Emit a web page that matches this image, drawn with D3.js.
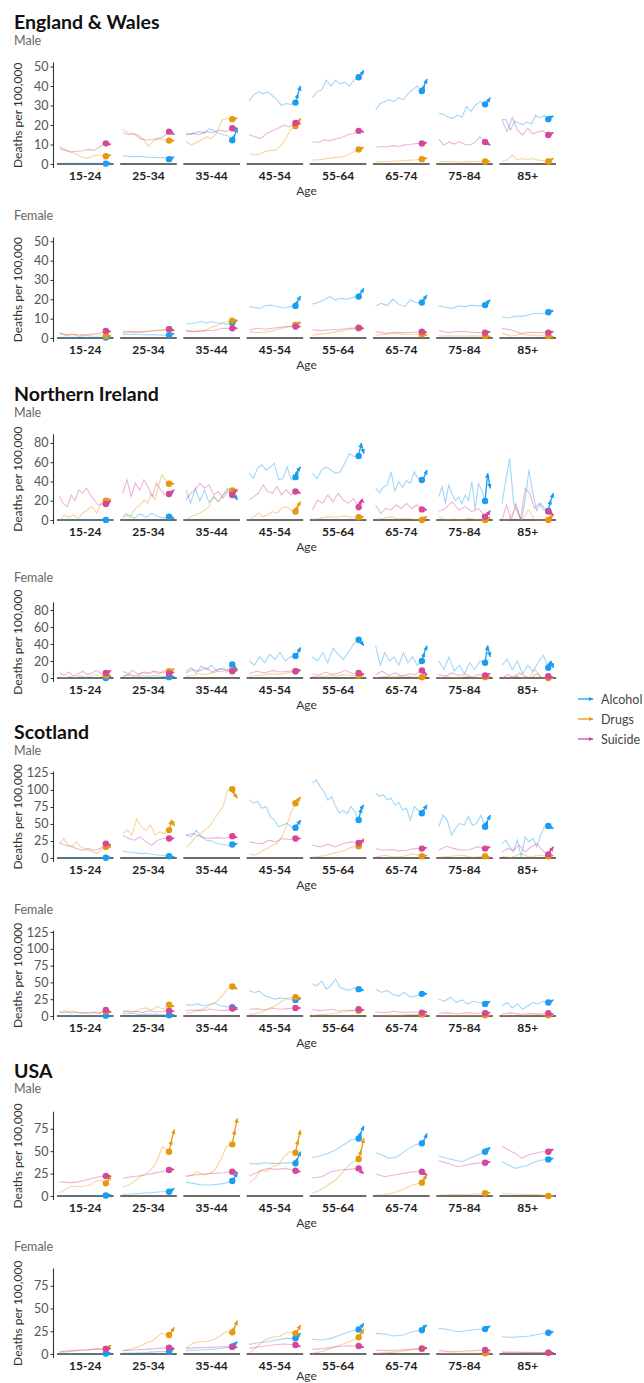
<!DOCTYPE html>
<html>
<head>
<meta charset="utf-8">
<script src="https://cdn.jsdelivr.net/npm/d3@7"></script>
<style>
  body { margin: 0; background: #fff; }
  svg { display: block; font-family: Lato, "Open Sans", sans-serif; }
</style>
</head>
<body>
<script>
// ages and causes
const ages = ['15-24', '25-34', '35-44', '45-54', '55-64', '65-74', '75-84', '85+']
const causes = ['Alcohol', 'Drugs', 'Suicide']
const causeColors = ['#1a9cf0', '#e8980f', '#d4479b']
const firstYear = 2001
const lastLineYear = 2019
const endYears = [2020, 2021]

// tick labels per country
const ewTicks = [0, 10, 20, 30, 40, 50]
const niTicks = [0, 20, 40, 60, 80]
const scTicks = [0, 25, 50, 75, 100, 125]
const usTicks = [0, 25, 50, 75]

// England & Wales, male (line values 2001-2019, last one is the dot)
const ewMaleAlcohol = [
  [0.4,0.4,0.4,0.4,0.4,0.3,0.3,0.3,0.3,0.2],
  [4.2,4.0,3.8,4.0,3.8,3.5,3.4,3.2,3.3,2.5],
  [15.5,15.2,16,16.6,16,18,17,16,15,14.5,12.2],
  [32.5,35.5,37,36,37,35,33,30,31,30.5,31.5],
  [34,37,38,43,40,43,41,42,40,43,44.5],
  [27.7,31,32,33,32,34,33,36,38,40,37.4],
  [26,25.5,24,23.4,25,24,29.5,27,30.4,32,30.6],
  [22.9,22.6,17.4,21.9,21,20.2,21.5,20.5,25,23.5,25,23],
]
const ewMaleAlcoholEnd = [[0.3,0.4],[3,3.6],[15,18.5],[36,40],[46,48],[40.5,43.6],[32,34],[24,24.6]]
const ewMaleDrugs = [
  [9,7.5,6,5.5,4,3,3.5,4.6,4.5,4],
  [18,16,15.5,15,12.6,9,12,13,12.5,12],
  [11.5,9.7,11,12.3,14,13,16,22.5,23.4,23],
  [5.5,4.6,5,6.3,7,7,9,12.3,17.4,19.5],
  [2,2.2,2.5,3,3.4,3.5,4.6,6,7.5],
  [1.2,1.2,1.3,1.5,1.5,1.8,2,2.2,2.5],
  [1.3,1.2,1.3,1.1,1.3,1.2,1.4,1.3],
  [1.5,2,4.6,2,2.8,2.2,2.8,2,1.8,1.3],
]
const ewMaleDrugsEnd = [[4.3,4.5],[12,12],[23.2,23.5],[21.5,23.4],[8,8.5],[2.8,3],[1.4,1.2],[2,3]]
const ewMaleSuicide = [
  [8,7,6.3,6.5,6.8,7.5,7,9,10.6],
  [16,15,15.5,13,12.3,12.6,13,14,16.6],
  [15,15.7,15,16.6,16,17.4,16.6,18.3],
  [15,14,13,15.7,17,18.3,20,19,21],
  [11.4,11,12.3,12,12.8,13.5,14.9,15.5,17],
  [8.5,9,8.7,9.4,9,9.8,10,10.5,10.5],
  [12.7,9.7,11.3,10.2,11.5,10,9.8,11,14,11.3],
  [22.6,16.6,24,17.4,14.9,18.3,15.5,16.5,17,14.9],
]
const ewMaleSuicideEnd = [[10.2,10],[16,15],[18.5,18.3],[21,20.5],[16.8,16.4],[10.8,11],[10.5,9.7],[15.5,16.2]]

// England & Wales, female
const ewFemaleAlcohol = [
  [0.3,0.3,0.3,0.3,0.3,0.2,0.2,0.2],
  [2,1.8,1.8,1.7,1.6,1.7,1.5,1.5],
  [7.2,7.5,7.9,8.5,7.8,8.4,7.9,7.5,7.2,7.9],
  [16.2,15.8,15.3,16.5,17,16.5,16,15.5,16.2,16.6],
  [17.5,18.5,19.7,21.4,19.7,20.5,20,21,21.4],
  [16.6,17.9,16.8,20,17.5,16.2,19.7,18.2,18.3],
  [16.6,15.9,15.3,16.6,16.2,17,16.5,17],
  [11,10.2,11.4,11.2,11.9,12.8,12.5,13.3],
]
const ewFemaleAlcoholEnd = [[0.3,0.5],[2,2.4],[8.5,9.3],[19.5,21.7],[23.5,25.7],[20.5,22.2],[18.5,19.7],[13.8,14]]
const ewFemaleDrugs = [
  [2.8,1.5,2,1.8,1.5,0.9,1,1.2],
  [3.8,3.2,2.8,3.3,3.5,4.1,4.3,4.5],
  [3.8,3.3,3.6,3.5,5,6,7.6,8.4,9],
  [3.3,2.8,3,3.3,4.1,5,5.9,6.7],
  [1.5,2,2.4,3.3,3.8,4.5,5],
  [1.5,1.8,2.4,2,1.9,1.9],
  [1,1.1,1,1.1,1],
  [2.4,1,2,1.5,1.2,1],
]
const ewFemaleDrugsEnd = [[1.1,1],[4,3.8],[9,9],[7.5,8.4],[5,4.8],[1.8,1.5],[0.9,0.7],[0.8,0.7]]
const ewFemaleSuicide = [
  [2.4,1.5,1.8,1,1.7,2,2.4,3.6],
  [2.8,3.3,3,3.6,3.8,4.5],
  [3.8,3.3,3.8,4,5,5],
  [4.1,5,4.5,5,5.5,5.9,5.9],
  [4.3,3.8,4.3,4.5,5,5.3],
  [3.3,2.4,3,2.8,3,3.3],
  [3.8,2.8,3.4,3.2,2.8,2.8],
  [5,4.1,2.4,3,2.8,2.8],
]
const ewFemaleSuicideEnd = [[3.5,3.3],[4.3,4.1],[5,5],[5.9,5.9],[5.2,5],[3,2.9],[3,3.3],[3,3.3]]

// Northern Ireland, male
const niMaleAlcohol = [
  [0,0,0,0,0,0,0,0,0.1],
  [2.8,5.2,2,6.3,3,7,4,2,3.5],
  [31.3,17.4,33,20,31,18,24.3,19,26,33,27.8],
  [48.7,43.5,53.9,57.4,52,55,59,41.7,43,55,41.7,44.5],
  [48.5,43,52,55,52,48.5,50,59,69,66,66.5],
  [32.9,28.4,34,36.4,50,30,39.8,34,41,38,50,43,41.6],
  [24.2,34.6,17.3,36.4,27,20,24,17,26,20,39.8,10.4,38,31,19.7],
  [17.3,41.6,64,17.3,10,0,20.8,52,27.7,10,17.3,12,9.7],
]
const niMaleAlcoholEnd = [[0.1,0],[2.5,2],[25,20.9],[52,55],[79.7,69],[45,52],[48.5,32.9],[20.8,27.7]]
const niMaleDrugs = [
  [0,5.2,2.5,5.2,1.7,7,10.4,13.9,7,17.4,20],
  [3.5,7,2.8,8.7,13.9,15.6,20.9,17.4,27.8,20.9,34.8,47,41.7,37.6],
  [0,3.5,5.2,7,10.4,13.9,24.3,19,26,31.3,30.6],
  [0,3.5,7,3.5,5.2,8.7,7,12.2,13.9,10.4,8.7],
  [0.7,1.7,3.5,2.8,4.2,3,2.8],
  [0.7,1.5,3.5,1,2,0.5,0],
  [3.5,0,1,0,2,0,0],
  [0,0,12,0,10.4,0,0,0],
]
const niMaleDrugsEnd = [[21,21.5],[38,37.6],[30,29.6],[15,19],[3,3.5],[2,3.5],[1.5,2.8],[3,5.2]]
const niMaleSuicide = [
  [24.3,16.7,13.9,26,20,31.3,27.8,33,26,20.9,15.6,16.7,16.7],
  [27.8,41.7,24.3,38.3,31.3,41.7,34.8,24.3,38.3,31.3,26,27],
  [20.9,27.8,31.3,38.3,33,36.5,26,29.6,22.6,29.6,26],
  [20.9,24.3,27.8,36.5,29.6,27.8,34.8,26,31.3,26,29.6],
  [10.4,20.8,17.3,26,19,27.7,20.8,17.3,22.5,13.2],
  [15.6,6.9,12,10.4,15.6,12,17.3,12,15.6,11],
  [8.7,12.1,19,10.4,13.9,8.7,12.1,3.5],
  [0,15.6,0,17.3,0,32.9,27.7,12,17.3,10.4,8.7],
]
const niMaleSuicideEnd = [[18,20],[29,31.3],[30,32],[29,27.8],[20.8,18],[11,10.4],[6,9.7],[7,5.2]]

// Northern Ireland, female
const niFemaleAlcohol = [
  [0,0,0,0,0,0,0,0],
  [2,4,1,3,2,3,2,1],
  [8,12,6,14,10,15,8,12,9,16],
  [20,15,25,18,28,22,30,20,25,26],
  [25,20,30,18,35,28,22,30,40,45],
  [38,15,30,20,25,15,30,18,25,15,20],
  [20,10,25,8,15,5,18,10,20,18],
  [15,22,10,20,5,15,8,18,27,12],
]
const niFemaleAlcoholEnd = [[1,2],[1.5,2],[12,10],[30,36],[42,38],[30,38],[38,25],[20,12]]
const niFemaleDrugs = [
  [1,0,2,0,3,1,2,4,2,3],
  [2,4,3,6,5,8,6,8],
  [2,3,5,4,6,8,7,9],
  [2,3,4,5,4,6,8],
  [2,1,3,2,4,3,3],
  [0,2,1,3,1,1],
  [0,1,0,2,0,1],
  [0,0,3,0,0,10,0,0],
]
const niFemaleDrugsEnd = [[3,3],[9,11],[9,8],[8,9],[3,4],[2,3],[1,2],[0,0]]
const niFemaleSuicide = [
  [6,3,7,2,5,8,4,6,9,5,6],
  [8,5,9,4,7,6,8,5,9,5],
  [6,10,8,12,7,11,9,8],
  [5,8,6,9,7,8,8],
  [5,3,7,4,6,9,5,6],
  [4,8,3,6,2,5,4,9],
  [4,2,6,3,5,1,4,3],
  [0,4,0,6,2,0,5,0,2],
]
const niFemaleSuicideEnd = [[7,9],[6,7],[9,10],[9,9],[5,5],[6,4],[4,5],[1,1]]

// Scotland, male
const scMaleAlcohol = [
  [0.5,0.5,0.5,0.5,0.4,0.4,0.4,0.3],
  [9.9,8.9,8,6.4,7,5.4,4.5,4,2.5],
  [33.6,31,41,31,26.2,25,21.2,20.3,18.8,19.8],
  [85.5,80.5,83,73,75.6,60.8,55.8,46,48.4,50.9,46,44.5],
  [110,115,105,98,85,90,76,66,70,65,76,68,55.8],
  [95.4,90.4,93,85.5,88,78,82,70.6,73,55.8,75.6,70.6,65.7],
  [46,63,55.8,33.6,43.5,50.9,48,60.8,48,50.9,63,46],
  [21.2,26.2,16.3,8.9,26.2,1.5,31,23.7,28.7,16.3,33.6,46,47],
]
const scMaleAlcoholEnd = [[0.5,1],[2,1.5],[20.5,21.2],[50,55.8],[73,78],[72,78],[55,63],[45,43.5]]
const scMaleDrugs = [
  [21,28.7,18.8,16.3,23.7,16.3,13.8,11.4,8.9,6.4,13.8,16.3],
  [36,41,33.6,57.3,46,41,48.4,33.6,38.5,36,41],
  [16.3,21.2,31,33.6,41,46,55.8,65.7,75.6,100.3,101.3],
  [6.4,4,6.4,11.4,13.8,18.8,21.2,31,46,65.7,80.5],
  [1.5,2,4,6.4,8.9,11.4,16.3,17.3],
  [1.5,4,1.5,2.5,6.4,2.5],
  [1,2.5,4,1,2.5],
  [2.5,0.5,6.4,1.5,4,2.5],
]
const scMaleDrugsEnd = [[16.3,16.3],[55.8,47],[92.9,88],[85,89.4],[22,28.7],[3,4],[1.5,1],[3,4]]
const scMaleSuicide = [
  [22,18.8,17.3,13.8,11.4,13.8,11.4,13.8,21.2],
  [33.6,28.7,26.2,31,23.7,18.8,26.2,28.7,28.7],
  [33.6,36,31,28.7,30,29,32],
  [23.7,22,21.2,26.2,23.7,28.7,27.3,28.7],
  [18.8,16.3,20.3,16.3,21.2,23.7,22],
  [13.8,11.4,12.5,10.5,11.4,13.8,13.8],
  [11.4,17.3,13.8,11.4,12.5,16.3,13.8],
  [8.9,13.8,11.4,18.8,8.9,16.3,21.2,11.4,5.4],
]
const scMaleSuicideEnd = [[20,18.8],[28.7,28.7],[31,30],[28.7,28.7],[24,26.2],[14.5,15.3],[15,16.3],[11.4,16.3]]

// Scotland, female
const scFemaleAlcohol = [
  [0.5,0.5,0.5,0.5,0.5,0.5],
  [3,4,2,3,2,1],
  [17,16,18,15,17,19,15,14,13],
  [38,35,37,30,28,25,27,26,25,24],
  [48,45,52,40,45,55,42,40,38,42,40],
  [40,35,38,32,30,35,28,30,33],
  [25,22,28,20,24,18,22,20,18],
  [15,20,12,18,10,15,20,18,22,20],
]
const scFemaleAlcoholEnd = [[0.5,0.5],[1.5,2],[12.5,12],[25,26],[39,38],[33,33],[20,22],[22,24]]
const scFemaleDrugs = [
  [5,8,4,6,5,3,5,4,7],
  [5,8,6,10,12,9,14,10,17],
  [4,5,8,10,13,18,22,30,40,44],
  [2,3,5,8,12,15,20,25,28,28],
  [1,2,3,4,6,8,8],
  [0.5,1,1,2,2],
  [0.5,0.5,1,1],
  [1,0,2,1],
]
const scFemaleDrugsEnd = [[6,6],[15,14],[42,40],[27,27],[8.5,9],[2,2],[1,1],[1,1]]
const scFemaleSuicide = [
  [6,5,7,4,5,6,4,9],
  [8,6,7,5,8,6,7,8],
  [8,9,8,10,9,8,11],
  [10,11,9,12,10,11,12],
  [10,8,9,10,7,9,8,10],
  [6,5,7,5,6,5],
  [4,5,3,5,4,4],
  [3,5,2,4,3,4],
]
const scFemaleSuicideEnd = [[7,6],[7,7],[10,10],[12,12],[9,9],[6,6],[5,5],[3,3]]

// USA, male
const usMaleAlcohol = [
  [0.5,0.5,0.5,0.5,0.5,0.5],
  [1.9,2.2,3,3.7,4.8,4.8],
  [15.2,14.1,12.3,12.3,13,14.1,16.7],
  [36.4,35.6,37.1,36.4,36.4,37.1,36.4],
  [43,44.6,47.5,51.2,56.8,62.4,64.2],
  [48.3,45.7,42,43,47.5,53.1,56.8,58.7],
  [44.6,42,40.1,38.2,42,45.7,49.4],
  [38.2,34.5,30.8,32.7,34.5,38.2,40.1,40.8],
]
const usMaleAlcoholEnd = [[1,1.5],[6.5,8.5],[21,26],[43,49.4],[71.7,78],[63.1,69.8],[52,54.2],[41.5,42]]
const usMaleDrugs = [
  [3.7,6.7,10.4,11.1,10.4,11.1,12.3,16,17.8,14.1],
  [10.4,12.3,17.8,23.4,27.1,36.4,55,49.4],
  [21.5,23.4,27.1,23.4,25.2,29,40.1,55,57.6],
  [14.9,19.7,29,27.1,32.7,34.5,43.8,49.4,48.3],
  [3,6.7,12.3,17.8,27.1,36.4,41.2],
  [1.1,1.5,3.7,7.4,12.3,14.9],
  [1.1,1.5,2,3],
  [3,2.2,1.8,1.5,0],
]
const usMaleDrugsEnd = [[18,22.3],[62.4,74.3],[73.5,86.5],[62.4,73.5],[51.2,64.2],[19.7,23.4],[3.3,3.7],[0.3,0.5]]
const usMaleSuicide = [
  [16,15.2,14.9,16,17.8,19.7,21.5,22.3],
  [19.7,21.5,22.3,23.4,25.2,27.1,29],
  [22.3,23.4,24.5,25.2,26,27.1],
  [22.3,27.1,30.8,29.7,30.8,28.2],
  [20,21.5,27.1,29,29.7,30.8],
  [24.5,21.5,23.4,25.2,27.1,27.1],
  [39.4,36.4,32.7,34.5,36.4,37.1],
  [55.7,51.2,47.5,42,45.7,47.5,49.4,49.4],
]
const usMaleSuicideEnd = [[22.3,22.3],[29.5,29.7],[26.5,26],[27.5,27.1],[27,25.2],[25,23.4],[37.8,38.2],[51,52]]

// USA, female
const usFemaleAlcohol = [
  [0.5,0.5,0.5,0.5,0.5],
  [0.7,1,1.5,2.6,2.6],
  [3.7,4.4,5,6.2,8],
  [10.6,12.4,13.5,15.4,17.2,17.2],
  [16.1,15.4,17.2,20.9,24.5,27],
  [22.7,22,19.8,20.9,24.5,26.3],
  [28.2,27,24.5,25.6,27,27.4],
  [19,18.3,19,19.8,22,23.4],
]
const usFemaleAlcoholEnd = [[0.8,1],[4.5,6.2],[11,13.5],[20,22.7],[30,33.7],[30,31.8],[29.3,30.7],[24,24.5]]
const usFemaleDrugs = [
  [1.8,2.6,3.7,4.4,6.2,5.5],
  [3.7,5.1,8,11.7,15.4,22.7,20.9],
  [6.2,11.7,13.5,13.5,15.4,19,24.5,23.8],
  [0.7,8,15.4,18.3,19.8,24.5,22.7],
  [0.7,2.6,6.2,9.9,13.5,18.3],
  [0.7,1.5,2.6,4.4,5.5],
  [0.7,0.7,0.7,0.7],
  [2.6,2.2,1.8,1.5],
]
const usFemaleDrugsEnd = [[7.5,9.9],[24.5,29.3],[30,36.6],[27,31.8],[22.7,27],[6.5,7.3],[0.8,1],[1.5,1.5]]
const usFemaleSuicide = [
  [2.6,3.7,4.4,5.1,5.5],
  [3.7,4.4,5.1,6.2,7],
  [6.2,7,7.3,8,8],
  [6.2,8,9.9,11,9.9],
  [5.1,6.2,8,9.1,8.8],
  [4.4,3.7,4.4,5.1,6.2],
  [3.7,2.6,3,3.7,4.4],
  [1.5,1.5,1.5,1.5],
]
const usFemaleSuicideEnd = [[6,6.2],[6.5,6.2],[7.5,7.3],[9,8],[8,7.3],[6.2,6.2],[4,3.7],[1.5,1.5]]

const panels = [
  { country: 'England & Wales', sex: 'Male', ticks: ewTicks,
    lines: [ewMaleAlcohol, ewMaleDrugs, ewMaleSuicide], ends: [ewMaleAlcoholEnd, ewMaleDrugsEnd, ewMaleSuicideEnd] },
  { sex: 'Female', ticks: ewTicks,
    lines: [ewFemaleAlcohol, ewFemaleDrugs, ewFemaleSuicide], ends: [ewFemaleAlcoholEnd, ewFemaleDrugsEnd, ewFemaleSuicideEnd] },
  { country: 'Northern Ireland', sex: 'Male', ticks: niTicks,
    lines: [niMaleAlcohol, niMaleDrugs, niMaleSuicide], ends: [niMaleAlcoholEnd, niMaleDrugsEnd, niMaleSuicideEnd] },
  { sex: 'Female', ticks: niTicks,
    lines: [niFemaleAlcohol, niFemaleDrugs, niFemaleSuicide], ends: [niFemaleAlcoholEnd, niFemaleDrugsEnd, niFemaleSuicideEnd] },
  { country: 'Scotland', sex: 'Male', ticks: scTicks,
    lines: [scMaleAlcohol, scMaleDrugs, scMaleSuicide], ends: [scMaleAlcoholEnd, scMaleDrugsEnd, scMaleSuicideEnd] },
  { sex: 'Female', ticks: scTicks,
    lines: [scFemaleAlcohol, scFemaleDrugs, scFemaleSuicide], ends: [scFemaleAlcoholEnd, scFemaleDrugsEnd, scFemaleSuicideEnd] },
  { country: 'USA', sex: 'Male', ticks: usTicks,
    lines: [usMaleAlcohol, usMaleDrugs, usMaleSuicide], ends: [usMaleAlcoholEnd, usMaleDrugsEnd, usMaleSuicideEnd] },
  { sex: 'Female', ticks: usTicks,
    lines: [usFemaleAlcohol, usFemaleDrugs, usFemaleSuicide], ends: [usFemaleAlcoholEnd, usFemaleDrugsEnd, usFemaleSuicideEnd] },
]

// where each panel sits on the page
const layout = [
  { titleY: 28.5, subY: 45, top: 62.6, zero: 164, max: 52 },
  { subY: 220, top: 237.4, zero: 338, max: 52 },
  { titleY: 401, subY: 417, top: 434.3, zero: 520, max: 89 },
  { subY: 582, top: 602.4, zero: 678, max: 89 },
  { titleY: 739, subY: 755, top: 771.6, zero: 858, max: 127 },
  { subY: 914, top: 930.7, zero: 1016, max: 127 },
  { titleY: 1078, subY: 1093, top: 1111.7, zero: 1196, max: 94 },
  { subY: 1251, top: 1268.5, zero: 1354, max: 94 },
]

const width = 644
const height = 1383

const svg = d3.select('body').append('svg')
    .attr('width', width)
    .attr('height', height)

const defs = svg.append('defs')
causeColors.forEach((c, i) => {
  defs.append('marker')
      .attr('id', 'arrow' + i)
      .attr('viewBox', '0 -5 10 10')
      .attr('refX', 9)
      .attr('refY', 0)
      .attr('markerWidth', 5)
      .attr('markerHeight', 5)
      .attr('markerUnits', 'userSpaceOnUse')
      .attr('orient', 'auto')
    .append('path')
      .attr('d', 'M0,-4.5L10,0L0,4.5Z')
      .attr('fill', c)
})

const facetX = d3.scaleBand()
    .domain(ages)
    .range([57, 556])
    .paddingInner(0.105)
    .paddingOuter(0)

const yearOf = (i, n) => firstYear + i * (lastLineYear - firstYear) / (n - 1)

panels.forEach((p, pi) => {
  const L = layout[pi]
  const g = svg.append('g')

  if (p.country) {
    g.append('text')
        .attr('x', 14)
        .attr('y', L.titleY)
        .attr('font-size', 19.5)
        .attr('font-weight', 700)
        .attr('fill', '#111')
        .text(p.country)
  }
  g.append('text')
      .attr('x', 14)
      .attr('y', L.subY)
      .attr('font-size', 12.5)
      .attr('fill', '#666')
      .text(p.sex)

  const y = d3.scaleLinear()
      .domain([0, L.max])
      .range([L.zero, L.top])

  const yAxis = g.append('g')
      .attr('transform', 'translate(53.5,0)')
      .call(d3.axisLeft(y).tickValues(p.ticks).tickSize(3).tickPadding(2).tickSizeOuter(0))
  yAxis.select('.domain').attr('stroke', '#333').attr('stroke-width', 1.1)
      .attr('d', `M0,${L.top}V${L.zero + 4}`)
  yAxis.selectAll('.tick line').attr('stroke', '#333')
  yAxis.selectAll('.tick text')
      .attr('font-size', 12.5)
      .attr('font-family', 'Lato, sans-serif')
      .attr('fill', '#555')

  g.append('text')
      .attr('transform', `translate(22,${(L.top + L.zero + 4) / 2}) rotate(-90)`)
      .attr('text-anchor', 'middle')
      .attr('font-size', 12)
      .attr('fill', '#333')
      .text('Deaths per 100,000')

  ages.forEach((age, ai) => {
    const fx = facetX(age)
    const x = d3.scaleLinear()
        .domain([2000, 2022])
        .range([fx, fx + facetX.bandwidth()])

    const facet = g.append('g')

    facet.append('line')
        .attr('x1', fx)
        .attr('x2', fx + facetX.bandwidth())
        .attr('y1', L.zero)
        .attr('y2', L.zero)
        .attr('stroke', '#3a3a3a')
        .attr('stroke-width', 1.6)

    facet.append('text')
        .attr('x', fx + facetX.bandwidth() / 2)
        .attr('y', L.zero + 16)
        .attr('text-anchor', 'middle')
        .attr('font-size', 12)
        .attr('font-weight', 700)
        .attr('fill', '#222')
        .text(age)

    const line = d3.line()
        .x((d, i, arr) => x(yearOf(i, arr.length)))
        .y(d => y(d))

    // faint history lines
    causes.forEach((c, ci) => {
      facet.append('path')
          .datum(p.lines[ci][ai])
          .attr('d', line)
          .attr('fill', 'none')
          .attr('stroke', causeColors[ci])
          .attr('stroke-opacity', 0.4)
          .attr('stroke-width', 1.1)
    })

    // dot + arrows to 2020 and 2021
    causes.forEach((c, ci) => {
      const vals = p.lines[ci][ai]
      const last = vals[vals.length - 1]
      const pts = [[lastLineYear, last]].concat(endYears.map((yr, k) => [yr, p.ends[ci][ai][k]]))
      for (let k = 0; k < 2; k++) {
        facet.append('line')
            .attr('x1', x(pts[k][0]))
            .attr('y1', y(pts[k][1]))
            .attr('x2', x(pts[k + 1][0]))
            .attr('y2', y(pts[k + 1][1]))
            .attr('stroke', causeColors[ci])
            .attr('stroke-width', 1.3)
            .attr('marker-end', `url(#arrow${ci})`)
      }
      facet.append('circle')
          .attr('cx', x(lastLineYear))
          .attr('cy', y(last))
          .attr('r', 3.2)
          .attr('fill', causeColors[ci])
    })
  })

  g.append('text')
      .attr('x', (facetX.range()[0] + facetX.range()[1]) / 2)
      .attr('y', Math.min(L.zero + 31, height - 3))
      .attr('text-anchor', 'middle')
      .attr('font-size', 12)
      .attr('fill', '#333')
      .text('Age')
})

// legend
const legend = svg.append('g')
    .attr('transform', 'translate(578,699)')

causes.forEach((c, i) => {
  const row = legend.append('g')
      .attr('transform', `translate(0,${i * 20})`)
  row.append('line')
      .attr('x1', 0)
      .attr('x2', 15)
      .attr('stroke', causeColors[i])
      .attr('stroke-width', 1.3)
      .attr('marker-end', `url(#arrow${i})`)
  row.append('text')
      .attr('x', 23)
      .attr('y', 4.5)
      .attr('font-size', 12.5)
      .attr('fill', '#444')
      .text(c)
})
</script>
</body>
</html>
